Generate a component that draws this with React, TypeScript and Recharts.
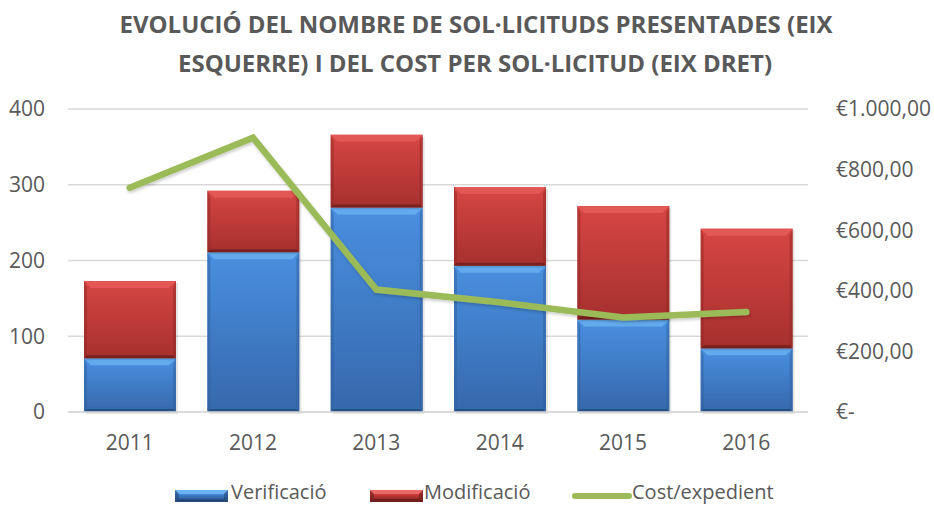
import React from 'react';
import { ComposedChart, Bar, Line, XAxis, YAxis, CartesianGrid } from 'recharts';

const years = ['2011', '2012', '2013', '2014', '2015', '2016'];
const verificacio = [71, 211, 270, 193, 122, 84];
const modificacio = [102, 81, 96, 104, 150, 158];
const costExpedient = [740, 905, 404, 362, 312, 330];
const leftTicks = [0, 100, 200, 300, 400];
const rightTicks = [0, 200, 400, 600, 800, 1000];
const titleLines = [
  'EVOLUCIÓ DEL NOMBRE DE SOL·LICITUDS PRESENTADES (EIX',
  'ESQUERRE) I DEL COST PER SOL·LICITUD (EIX DRET)',
];
const legendLabels = ['Verificació', 'Modificació', 'Cost/expedient'];

const data = years.map((y, i) => ({
  year: y,
  verificacio: verificacio[i],
  modificacio: modificacio[i],
  cost: costExpedient[i],
}));

const FONT = '"Open Sans", "DejaVu Sans", sans-serif';
const TXT = '#595959';

const euro = (v: number) => {
  if (v === 0) return '€-';
  const s = String(Math.round(v)).replace(/\B(?=(\d{3})+(?!\d))/g, '.');
  return '€' + s + ',00';
};

const palettes: Record<string, any> = {
  blue: { grad: 'gBlue', top: '#66aef0', side: '#2f5f9e', bottom: '#24497a' },
  red: { grad: 'gRed', top: '#e35a57', side: '#8f2826', bottom: '#6e1e1c' },
};

const makeShape = (key: string) => (props: any) => {
  const { x, y, width: w, height: h } = props;
  if (!h || h <= 0) return null;
  const p = palettes[key];
  const b = Math.min(7, h / 2);
  const s = 3;
  return (
    <g>
      <rect x={x + 2} y={y + 2} width={w} height={h} fill="#000" opacity={0.1} />
      <rect x={x} y={y} width={w} height={h} fill={`url(#${p.grad})`} />
      <polygon points={`${x},${y} ${x + w},${y} ${x + w - b},${y + b} ${x + b},${y + b}`} fill={p.top} opacity={0.9} />
      <polygon points={`${x},${y} ${x + s},${y + b} ${x + s},${y + h - s} ${x},${y + h}`} fill={p.side} opacity={0.5} />
      <polygon points={`${x + w},${y} ${x + w - s},${y + b} ${x + w - s},${y + h - s} ${x + w},${y + h}`} fill={p.side} opacity={0.5} />
      <polygon points={`${x},${y + h} ${x + s},${y + h - s} ${x + w - s},${y + h - s} ${x + w},${y + h}`} fill={p.bottom} opacity={0.8} />
    </g>
  );
};

const BlueShape = makeShape('blue');
const RedShape = makeShape('red');

const LegendRect = ({ id, light, mid, dark }: { id: string; light: string; mid: string; dark: string }) => (
  <svg width={53} height={12} style={{ display: 'block' }}>
    <defs>
      <linearGradient id={id} x1="0" y1="0" x2="0" y2="1">
        <stop offset="0" stopColor={light} />
        <stop offset="0.4" stopColor={mid} />
        <stop offset="1" stopColor={dark} />
      </linearGradient>
    </defs>
    <rect x={0} y={0} width={53} height={12} fill={`url(#${id})`} />
    <polygon points="0,0 53,0 49,4 4,4" fill={light} />
    <polygon points="0,0 4,4 4,9 0,12" fill={dark} opacity={0.6} />
    <polygon points="53,0 49,4 49,9 53,12" fill={dark} opacity={0.6} />
    <polygon points="0,12 4,9 49,9 53,12" fill={dark} />
  </svg>
);

const legendText: React.CSSProperties = {
  position: 'absolute', top: 482, fontFamily: FONT, fontSize: 20, color: TXT, lineHeight: '20px', whiteSpace: 'nowrap',
};

export default function App() {
  return (
    <div style={{ position: 'absolute', left: 0, top: 0, width: 934, height: 506, background: '#fff' }}>
      <svg width={934} height={90} style={{ position: 'absolute', left: 0, top: 0 }}>
        <text x={476} y={33} textAnchor="middle" fontFamily={FONT} fontWeight={700} fontSize={24} fill={TXT}
          textLength={713} lengthAdjust="spacingAndGlyphs">{titleLines[0]}</text>
        <text x={475} y={72} textAnchor="middle" fontFamily={FONT} fontWeight={700} fontSize={24} fill={TXT}
          textLength={594} lengthAdjust="spacingAndGlyphs">{titleLines[1]}</text>
      </svg>
      <div style={{ position: 'absolute', left: 0, top: 0 }}>
        <ComposedChart width={934} height={506} data={data} margin={{ top: 109, right: 0, left: 0, bottom: 64 }}>
          <defs>
            <linearGradient id="gBlue" x1="0" y1="0" x2="0" y2="1">
              <stop offset="0" stopColor="#4a8fe0" />
              <stop offset="1" stopColor="#3568ab" />
            </linearGradient>
            <linearGradient id="gRed" x1="0" y1="0" x2="0" y2="1">
              <stop offset="0" stopColor="#d64643" />
              <stop offset="1" stopColor="#a6302e" />
            </linearGradient>
            <filter id="lineShadow" x="-10%" y="-10%" width="120%" height="130%">
              <feDropShadow dx="1" dy="2" stdDeviation="1.5" floodColor="#000" floodOpacity="0.2" />
            </filter>
          </defs>
          <CartesianGrid vertical={false} stroke="#d9d9d9" strokeWidth={1.5} yAxisId="left" />
          <XAxis dataKey="year" axisLine={{ stroke: '#d9d9d9', strokeWidth: 1.5 }} tickLine={false} height={30}
            tickMargin={17} tick={{ fontFamily: FONT, fontSize: 21, fill: TXT }} />
          <YAxis yAxisId="left" orientation="left" width={68} domain={[0, 400]} ticks={leftTicks}
            axisLine={false} tickLine={false} tickMargin={17} interval={0}
            tick={{ fontFamily: FONT, fontSize: 21, fill: TXT }} />
          <YAxis yAxisId="right" orientation="right" width={126} domain={[0, 1000]} ticks={rightTicks}
            axisLine={false} tickLine={false} tickMargin={22} interval={0} tickFormatter={euro}
            tick={{ fontFamily: FONT, fontSize: 21, fill: TXT, textAnchor: 'start' }} />
          <Bar yAxisId="left" dataKey="verificacio" name={legendLabels[0]} stackId="a" barSize={92}
            fill="#3f7fcf" shape={BlueShape} isAnimationActive={false} />
          <Bar yAxisId="left" dataKey="modificacio" name={legendLabels[1]} stackId="a" barSize={92}
            fill="#c83a38" shape={RedShape} isAnimationActive={false} />
          <Line yAxisId="right" dataKey="cost" name={legendLabels[2]} type="linear" stroke="#9bbb59"
            strokeWidth={6.5} strokeLinecap="round" strokeLinejoin="miter" dot={false} activeDot={false}
            filter="url(#lineShadow)" isAnimationActive={false} />
        </ComposedChart>
      </div>
      <div style={{ position: 'absolute', left: 175, top: 490 }}>
        <LegendRect id="lgBlue" light="#6cb2f2" mid="#3f7fcf" dark="#24497a" />
      </div>
      <div style={{ ...legendText, left: 231 }}>{legendLabels[0]}</div>
      <div style={{ position: 'absolute', left: 370, top: 490 }}>
        <LegendRect id="lgRed" light="#ea6a66" mid="#c83a38" dark="#6e1e1c" />
      </div>
      <div style={{ ...legendText, left: 424 }}>{legendLabels[1]}</div>
      <svg width={70} height={14} style={{ position: 'absolute', left: 568, top: 489 }}>
        <line x1={7} y1={7} x2={61} y2={7} stroke="#9bbb59" strokeWidth={6} strokeLinecap="round" />
      </svg>
      <div style={{ ...legendText, left: 632 }}>{legendLabels[2]}</div>
    </div>
  );
}
